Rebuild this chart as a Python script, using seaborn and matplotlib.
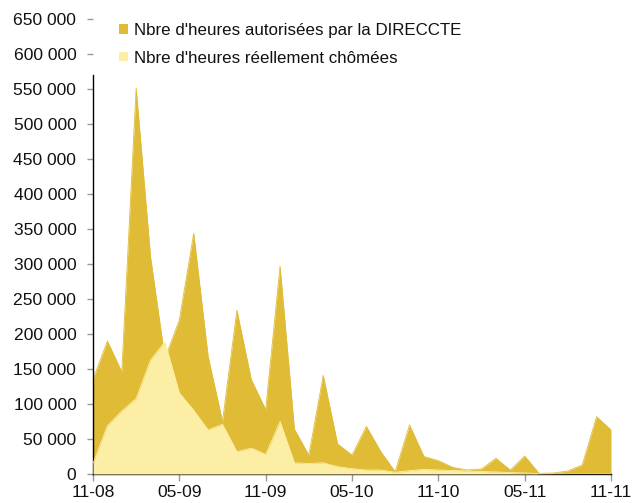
import numpy as np
import pandas as pd
import matplotlib
matplotlib.use("Agg")
import matplotlib.pyplot as plt
from matplotlib.patches import Patch
from matplotlib.ticker import FuncFormatter
import seaborn as sns

# --- donnees ---
mois = list(range(37))  # 11-08 ... 11-11
autorisees = [135000, 190000, 146000, 551000, 310000, 165000, 220000, 344000, 168000, 75000,
              234000, 135000, 92000, 297000, 64000, 27000, 141000, 43000, 27000, 68000,
              32000, 3300, 70000, 25000, 19000, 9500, 5700, 7100, 22400, 5700,
              25700, 1000, 1400, 4300, 12900, 82000, 63000]
chomees = [15000, 69000, 90000, 108000, 163000, 189000, 116000, 91000, 63000, 71000,
           32000, 37000, 28000, 75000, 16000, 15000, 16000, 10500, 7600, 5700,
           5700, 2400, 4800, 6700, 5700, 5000, 4500, 3500, 3000, 2000,
           1500, 500, 300, 200, 200, 200, 200]
xticks = [0, 6, 12, 18, 24, 30, 36]
xlabels = ["11-08", "05-09", "11-09", "05-10", "11-10", "05-11", "11-11"]

C_DARK = "#E0BB36"
C_LIGHT = "#FCEEA4"

df = pd.DataFrame({"mois": mois, "autorisees": autorisees, "chomees": chomees})

sns.set_theme(style="white")
plt.rcParams["font.family"] = ["Liberation Sans", "DejaVu Sans"]

fig = plt.figure(figsize=(6.35, 5.03), dpi=100)
ax = fig.add_axes([93/635, 29/503, 518/635, 455/503])

ax.fill_between(df["mois"], df["autorisees"], color=C_DARK, lw=0, zorder=2)
ax.fill_between(df["mois"], df["chomees"], color=C_LIGHT, lw=0, zorder=3)
sns.lineplot(data=df, x="mois", y="autorisees", color=C_DARK, lw=0.6, ax=ax, zorder=2)
sns.lineplot(data=df, x="mois", y="chomees", color=C_LIGHT, lw=0.6, ax=ax, zorder=3)

ax.set_xlim(0, 36)
ax.set_ylim(0, 650000)
ax.set_yticks(np.arange(0, 650001, 50000))
ax.yaxis.set_major_formatter(FuncFormatter(lambda v, p: f"{int(v):,}".replace(",", " ")))
ax.set_xticks(xticks)
ax.set_xticklabels(xlabels)
ax.set_xlabel("")
ax.set_ylabel("")

for s in ["top", "right"]:
    ax.spines[s].set_visible(False)
for s in ["left", "bottom"]:
    ax.spines[s].set_color("black")
    ax.spines[s].set_linewidth(1.0)
# la legende masque le haut de l'axe vertical
ax.spines["left"].set_bounds(0, 570000)
ax.tick_params(axis="y", which="major", direction="out", length=4, width=1,
               color="#999999", labelsize=12.6, labelcolor="#111111", pad=8, left=True)
ax.tick_params(axis="x", which="major", direction="out", length=5, width=1,
               color="#999999", labelsize=12.6, labelcolor="#111111", pad=3, bottom=True)

handles = [Patch(facecolor=C_DARK, edgecolor="none"), Patch(facecolor=C_LIGHT, edgecolor="none")]
leg = ax.legend(handles, ["Nbre d'heures autorisées par la DIRECCTE", "Nbre d'heures réellement chômées"],
                loc="upper left", bbox_to_anchor=(0.041, 1.003), frameon=True, fancybox=False,
                facecolor="white", edgecolor="white", framealpha=1, fontsize=12.2,
                handlelength=0.5, handleheight=0.5, handletextpad=0.35, labelspacing=0.76,
                borderpad=0.3, borderaxespad=0)
for t in leg.get_texts():
    t.set_color("#111111")
leg.set_zorder(5)

fig.savefig("out.png", dpi=100)
